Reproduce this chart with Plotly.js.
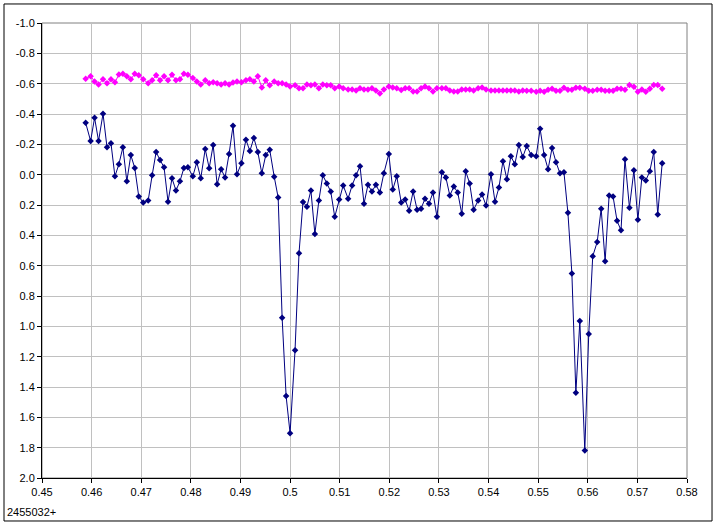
<!DOCTYPE html>
<html>
<head>
<meta charset="utf-8">
<script src="https://cdn.plot.ly/plotly-3.0.1.min.js"></script>
<style>
html, body { margin: 0; padding: 0; background: #ffffff; }
#chart { width: 717px; height: 528px; }
</style>
</head>
<body>
<div id="chart"></div>
<script>
// Time (HJD - 2455032)
var timeValues = [
  0.4588, 0.4598, 0.4606, 0.4614, 0.4623, 0.4631, 0.4639, 0.4647, 0.4655, 0.4663,
  0.4671, 0.4679, 0.4687, 0.4695, 0.4704, 0.4714, 0.4722, 0.4730, 0.4738, 0.4746,
  0.4754, 0.4762, 0.4770, 0.4778, 0.4786, 0.4794, 0.4804, 0.4812, 0.4820, 0.4829,
  0.4837, 0.4845, 0.4853, 0.4861, 0.4869, 0.4877, 0.4885, 0.4893, 0.4902, 0.4911,
  0.4919, 0.4927, 0.4935, 0.4943, 0.4951, 0.4959, 0.4968, 0.4976, 0.4984, 0.4992,
  0.5000, 0.5010, 0.5018, 0.5026, 0.5034, 0.5042, 0.5050, 0.5058, 0.5066, 0.5074,
  0.5082, 0.5090, 0.5099, 0.5107, 0.5117, 0.5125, 0.5133, 0.5141, 0.5149, 0.5157,
  0.5165, 0.5173, 0.5181, 0.5189, 0.5199, 0.5207, 0.5215, 0.5224, 0.5232, 0.5240,
  0.5248, 0.5256, 0.5264, 0.5272, 0.5280, 0.5288, 0.5296, 0.5306, 0.5314, 0.5322,
  0.5330, 0.5338, 0.5346, 0.5354, 0.5362, 0.5370, 0.5379, 0.5387, 0.5395, 0.5405,
  0.5413, 0.5421, 0.5429, 0.5437, 0.5445, 0.5453, 0.5461, 0.5469, 0.5477, 0.5486,
  0.5496, 0.5504, 0.5512, 0.5520, 0.5528, 0.5536, 0.5544, 0.5552, 0.5560, 0.5568,
  0.5576, 0.5584, 0.5594, 0.5602, 0.5610, 0.5619, 0.5627, 0.5635, 0.5643, 0.5651,
  0.5659, 0.5667, 0.5675, 0.5684, 0.5693, 0.5701, 0.5709, 0.5717, 0.5725, 0.5733,
  0.5741, 0.5750
];

// Variable star differential magnitude (navy)
var variableMag = [
  -0.342, -0.222, -0.375, -0.222, -0.402, -0.180, -0.207, 0.011, -0.069, -0.180,
  0.044, -0.129, -0.044, 0.144, 0.184, 0.171, 0.004, -0.149, -0.096, -0.049,
  0.178, 0.024, 0.104, 0.044, -0.044, -0.049, 0.011, -0.082, 0.024, -0.169,
  -0.042, -0.196, 0.064, -0.036, 0.018, -0.136, -0.322, -0.002, -0.076, -0.231,
  -0.156, -0.242, -0.149, -0.009, -0.129, -0.164, 0.013, 0.151, 0.944, 1.460,
  1.705, 1.158, 0.518, 0.180, 0.211, 0.104, 0.391, 0.171, 0.004, 0.058,
  0.111, 0.278, 0.164, 0.071, 0.158, 0.071, 0.004, -0.056, 0.191, 0.067,
  0.111, 0.067, 0.118, -0.009, -0.136, 0.098, 0.011, 0.184, 0.164, 0.238,
  0.111, 0.231, 0.224, 0.158, 0.191, 0.118, 0.278, -0.016, 0.018, 0.138,
  0.078, 0.118, 0.258, -0.022, 0.058, 0.231, 0.171, 0.131, 0.204, -0.002,
  0.178, 0.084, -0.089, 0.031, -0.122, -0.069, -0.196, -0.116, -0.189, -0.129,
  -0.122, -0.302, -0.129, -0.036, -0.176, -0.082, -0.009, -0.016, 0.251, 0.651,
  1.438, 0.965, 1.818, 1.051, 0.538, 0.444, 0.224, 0.571, 0.138, 0.144,
  0.304, 0.367, -0.102, 0.218, -0.029, 0.298, 0.018, 0.038, -0.022, -0.149,
  0.262, -0.076
];

// Check star differential magnitude (magenta)
var checkMag = [
  -0.633, -0.649, -0.615, -0.595, -0.629, -0.602, -0.629, -0.609, -0.660, -0.665,
  -0.649, -0.629, -0.665, -0.655, -0.629, -0.602, -0.622, -0.655, -0.622, -0.649,
  -0.622, -0.658, -0.622, -0.629, -0.665, -0.658, -0.638, -0.615, -0.595, -0.622,
  -0.602, -0.609, -0.602, -0.595, -0.602, -0.595, -0.607,
  -0.615, -0.609, -0.622, -0.629, -0.615, -0.649, -0.575, -0.622, -0.589, -0.615,
  -0.602, -0.602, -0.595, -0.582, -0.589, -0.569, -0.569, -0.595, -0.589, -0.595,
  -0.569, -0.595, -0.589, -0.589, -0.569, -0.582, -0.569, -0.562, -0.562, -0.555,
  -0.569, -0.562, -0.562, -0.569, -0.555, -0.535, -0.562,
  -0.582, -0.575, -0.569, -0.558, -0.569, -0.569, -0.549, -0.549, -0.569, -0.582,
  -0.569, -0.549, -0.569, -0.569, -0.569, -0.555, -0.549, -0.549, -0.562, -0.562,
  -0.562, -0.555, -0.569, -0.575, -0.562, -0.555, -0.555, -0.555, -0.555, -0.555,
  -0.555, -0.555, -0.549, -0.555,
  -0.553, -0.553, -0.547, -0.553, -0.547, -0.560, -0.567, -0.553, -0.553, -0.573,
  -0.560, -0.560, -0.573, -0.573, -0.567, -0.553, -0.553, -0.560, -0.560, -0.553,
  -0.553, -0.553, -0.567, -0.567, -0.560, -0.591, -0.580, -0.547, -0.562, -0.547,
  -0.567, -0.591, -0.591, -0.567
];

var xTickValues = [0.45, 0.46, 0.47, 0.48, 0.49, 0.50, 0.51, 0.52, 0.53, 0.54, 0.55, 0.56, 0.57, 0.58];
var xTickLabels = ['0.45', '0.46', '0.47', '0.48', '0.49', '0.5', '0.51', '0.52', '0.53', '0.54', '0.55', '0.56', '0.57', '0.58'];
var yTickValues = [-1.0, -0.8, -0.6, -0.4, -0.2, 0.0, 0.2, 0.4, 0.6, 0.8, 1.0, 1.2, 1.4, 1.6, 1.8, 2.0];
var yTickLabels = ['-1.0', '-0.8', '-0.6', '-0.4', '-0.2', '0.0', '0.2', '0.4', '0.6', '0.8', '1.0', '1.2', '1.4', '1.6', '1.8', '2.0'];
var epochLabel = '2455032+';

var traces = [
  {
    x: timeValues, y: checkMag, type: 'scatter', mode: 'lines+markers',
    line: { color: '#FF00FF', width: 1 },
    marker: { color: '#FF00FF', size: 5, symbol: 'diamond' },
    hoverinfo: 'x+y', showlegend: false
  },
  {
    x: timeValues, y: variableMag, type: 'scatter', mode: 'lines+markers',
    line: { color: '#000080', width: 1 },
    marker: { color: '#000080', size: 5, symbol: 'diamond' },
    hoverinfo: 'x+y', showlegend: false
  }
];

var tickFont = { family: 'Liberation Sans, Arial, sans-serif', size: 11, color: '#000000' };

var layout = {
  width: 717, height: 528,
  margin: { l: 42, r: 30, t: 23, b: 50, pad: 0 },
  paper_bgcolor: '#FFFFFF', plot_bgcolor: '#FFFFFF',
  showlegend: false,
  xaxis: {
    range: [0.45, 0.58], tickmode: 'array', tickvals: xTickValues, ticktext: xTickLabels,
    showgrid: true, gridcolor: '#C0C0C0', gridwidth: 1,
    showline: true, linecolor: '#000000', linewidth: 1,
    ticks: 'outside', ticklen: 4, tickcolor: '#000000',
    tickfont: tickFont, zeroline: false, fixedrange: true
  },
  yaxis: {
    range: [2.0, -1.0], tickmode: 'array', tickvals: yTickValues, ticktext: yTickLabels,
    showgrid: true, gridcolor: '#C0C0C0', gridwidth: 1,
    showline: true, linecolor: '#000000', linewidth: 1,
    ticks: 'outside', ticklen: 4, tickcolor: '#000000',
    tickfont: tickFont, zeroline: false, fixedrange: true
  },
  shapes: [
    { type: 'rect', xref: 'paper', yref: 'paper', x0: 0, x1: 1, y0: 0, y1: 1,
      line: { color: '#808080', width: 1 }, layer: 'below' },
    { type: 'rect', xref: 'paper', yref: 'paper', x0: -0.0589, x1: 1.0388, y0: -0.0945, y1: 1.0418,
      line: { color: '#000000', width: 1 } }
  ],
  annotations: [
    { text: epochLabel, xref: 'paper', yref: 'paper', x: -0.0574, y: -0.0747,
      xanchor: 'left', yanchor: 'middle', showarrow: false, font: tickFont }
  ]
};

Plotly.newPlot('chart', traces, layout, { displayModeBar: false, staticPlot: true });
</script>
</body>
</html>
